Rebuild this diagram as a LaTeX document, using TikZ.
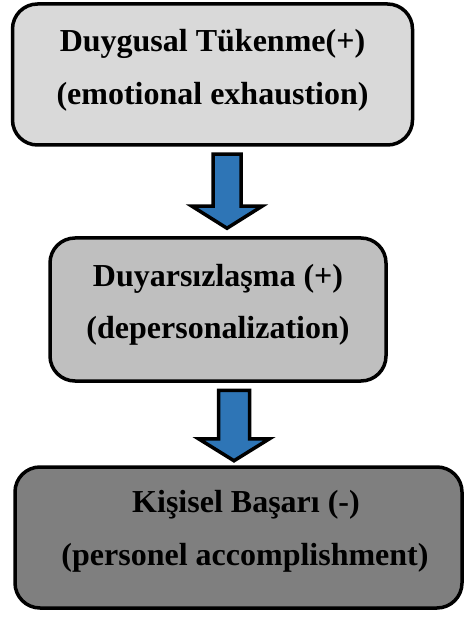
\documentclass[tikz,border=0pt]{standalone}
\usepackage{fontspec}
\setmainfont{Liberation Serif}
\usetikzlibrary{calc}
\definecolor{boxA}{HTML}{D9D9D9}
\definecolor{boxB}{HTML}{BFBFBF}
\definecolor{boxC}{HTML}{7F7F7F}
\definecolor{flowblue}{HTML}{2E75B6}
\tikzset{
  stage/.style={draw=black, line width=3.5pt, rounded corners=25pt,
    inner sep=0pt, minimum width=#1},
  label/.style={anchor=base, inner sep=0pt,
    font=\fontsize{32}{38}\selectfont\bfseries},
  blockarrow/.style={draw=black, fill=flowblue, line width=3.5pt, line join=miter},
}
% block arrow from the top centre #1 down to the tip #2
\newcommand\downarrowblock[4]{% top, tip, shaft half width, head half width
  \filldraw[blockarrow] let \p1=(#1), \p2=(#2) in
    (\x1-#3,\y1) -- (\x1+#3,\y1) -- (\x1+#3,\y2+22pt) -- (\x1+#4,\y2+22pt)
    -- (\x2,\y2) -- (\x1-#4,\y2+22pt) -- (\x1-#3,\y2+22pt) -- cycle;}
\begin{document}
\begin{tikzpicture}[x=1pt,y=-1pt]
  \useasboundingbox (0,0) rectangle (465,617);

  \node[stage=400pt, minimum height=141pt, fill=boxA] (b1) at (212.5,74.5) {};
  \node[stage=336pt, minimum height=143pt, fill=boxB] (b2) at (218,309.5) {};
  \node[stage=447pt, minimum height=141pt, fill=boxC] (b3) at (238.5,537.5) {};

  \node[label] (t1a) at (212.5,52) {Duygusal Tükenme(+)};
  \node[label] (t1b) at (212.5,105) {(emotional exhaustion)};
  \node[label] (t2a) at (218,286) {Duyarsızlaşma (+)};
  \node[label] (t2b) at (218,338) {(depersonalization)};
  \node[label] (t3a) at (246,512) {Kişisel Başarı (-)};
  \node[label] (t3b) at (245,565) {(personel accomplishment)};

  \coordinate (a1top) at ($(b1.south)+(14.5,7.5)$);
  \coordinate (a1tip) at ($(b2.north)+(9,-8)$);
  \coordinate (a2top) at ($(b2.south)+(16,7.5)$);
  \coordinate (a2tip) at ($(b3.north)+(-4.5,-4.5)$);
  \downarrowblock{a1top}{a1tip}{14pt}{35pt}
  \downarrowblock{a2top}{a2tip}{15.5pt}{35.5pt}
\end{tikzpicture}
\end{document}
